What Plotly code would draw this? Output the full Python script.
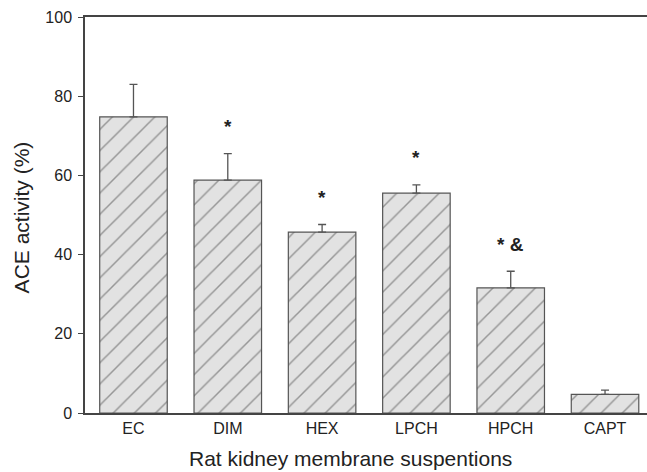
import plotly.graph_objects as go

categories = ["EC", "DIM", "HEX", "LPCH", "HPCH", "CAPT"]
activity = [74.8, 58.8, 45.7, 55.5, 31.6, 4.7]
sem = [8.2, 6.7, 1.9, 2.1, 4.2, 1.1]
marks = ["", "*", "*", "*", "* &", ""]
yticks = [0, 20, 40, 60, 80, 100]

FONT = "Liberation Sans, Arial, sans-serif"
x_idx = list(range(len(categories)))

fig = go.Figure()
fig.add_trace(go.Bar(
    x=x_idx, y=activity,
    width=0.716,
    marker=dict(
        color="#e2e2e2",
        line=dict(color="#555555", width=1.2),
        pattern=dict(shape="/", fgcolor="#4a4a4a", size=15, solidity=0.1),
    ),
    error_y=dict(type="data", symmetric=False, array=sem,
                 arrayminus=[0] * len(sem), color="#555555",
                 thickness=1.3, width=4),
    showlegend=False,
))

for i, (v, e, m) in enumerate(zip(activity, sem, marks)):
    if m:
        fig.add_annotation(x=i, y=v + e, xref="x", yref="y", text="<b>" + m + "</b>",
                           showarrow=False, yanchor="middle", yshift=27,
                           font=dict(family=FONT, size=19, color="#222222"))

fig.add_annotation(x=(350.5 - 85) / 562, y=0, xref="paper", yref="paper",
                   text="Rat kidney membrane suspentions", showarrow=False,
                   yanchor="middle", yshift=-45,
                   font=dict(family=FONT, size=21, color="#222222"))
fig.add_annotation(x=0, y=0.494, xref="paper", yref="paper",
                   text="ACE activity (%)", showarrow=False, textangle=-90,
                   xanchor="center", xshift=-64,
                   font=dict(family=FONT, size=21, color="#222222"))

fig.update_layout(
    width=647, height=472,
    margin=dict(l=85, r=0, t=17, b=59),
    paper_bgcolor="white", plot_bgcolor="white",
    font=dict(family=FONT, size=16, color="#222222"),
    bargap=0.28,
)
fig.update_xaxes(
    range=[-0.514, 5.445],
    tickmode="array", tickvals=x_idx, ticktext=categories,
    showline=True, linecolor="#444444", linewidth=1.5, mirror=True,
    ticks="", showgrid=False, zeroline=False,
    tickfont=dict(family=FONT, size=16, color="#222222"),
)
fig.update_yaxes(
    range=[0, 100],
    tickmode="array", tickvals=yticks, ticktext=[str(t) for t in yticks],
    showline=True, linecolor="#444444", linewidth=1.5,
    ticks="outside", ticklen=5, tickcolor="#444444", tickwidth=1.3,
    ticklabelstandoff=3,
    showgrid=False, zeroline=False,
    tickfont=dict(family=FONT, size=16, color="#222222"),
)

fig.write_html("out.html")
